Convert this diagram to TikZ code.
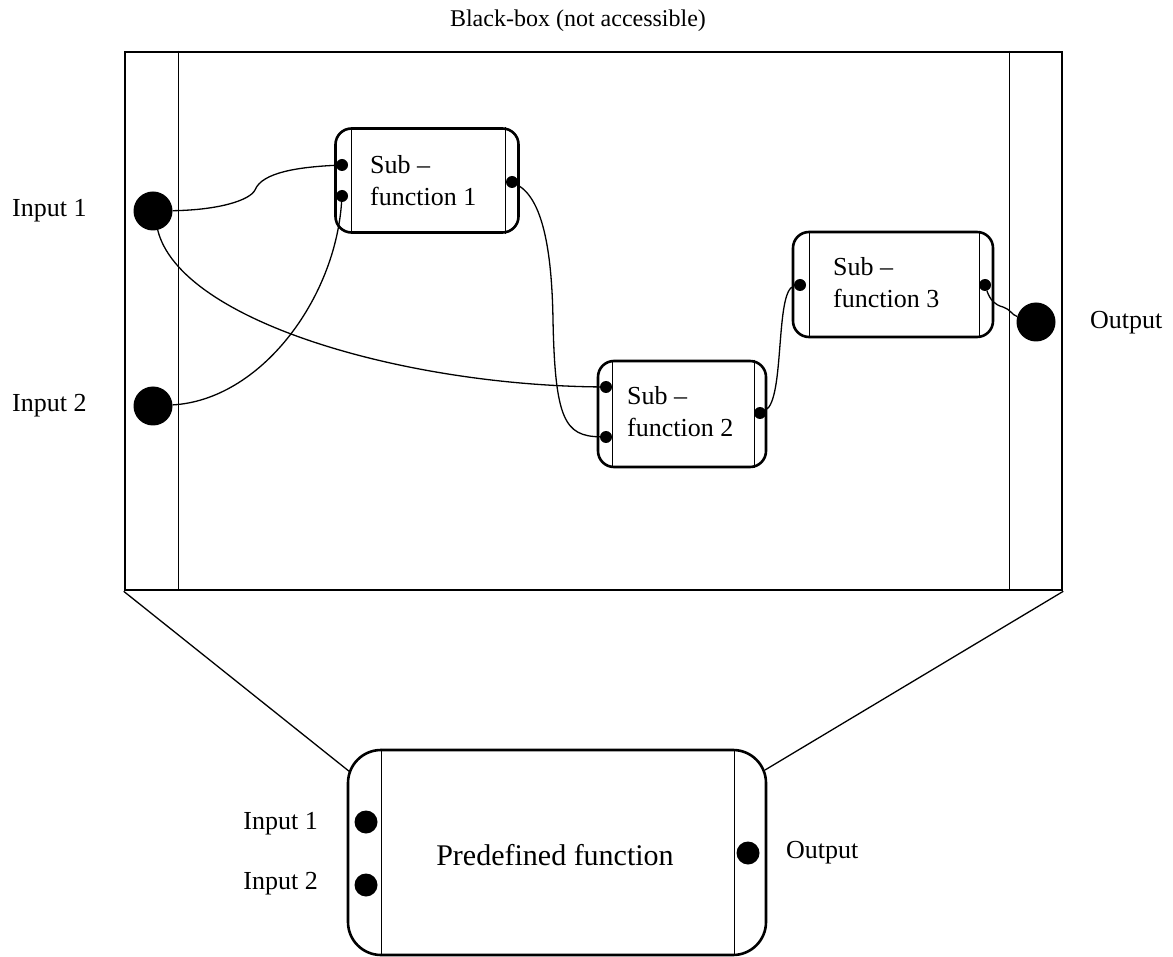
\documentclass[tikz,border=0pt]{standalone}
\usepackage{fontspec}
\setmainfont{Liberation Serif}
\begin{document}
\begin{tikzpicture}[x=1pt,y=-1pt]
\tikzset{
  fbox/.style={draw, line width=2.6pt, rounded corners=16pt, inner sep=0pt},
  thinline/.style={line width=1.3pt},
  wire/.style={line width=1.3pt},
  sdot/.style={circle, fill=black, minimum size=12pt, inner sep=0pt},
  bdot/.style={circle, fill=black, minimum size=39pt, inner sep=0pt},
  mdot/.style={circle, fill=black, minimum size=23pt, inner sep=0pt},
  txt/.style={font=\fontsize{26}{32}\selectfont, inner sep=0pt, align=left},
}
\useasboundingbox (0,0) rectangle (1173,957);

% title
\node[txt, font=\fontsize{24}{28}\selectfont] (title) at (578,21) {Black-box (not accessible)};

% black box
\node[draw, line width=2.6pt, minimum width=937pt, minimum height=538pt, inner sep=0pt] (bb) at (593.5,321) {};
\draw[thinline] ([xshift=55pt]bb.north west) -- ([xshift=55pt]bb.south west);
\draw[thinline] ([xshift=-54pt]bb.north east) -- ([xshift=-54pt]bb.south east);

% big inputs/outputs
\node[bdot] (in1) at (153,211) {};
\node[bdot] (in2) at (153,406) {};
\node[bdot] (out) at (1036,322) {};
\node[txt, anchor=west] (lin1) at (12,211) {Input 1};
\node[txt, anchor=west] (lin2) at (12,406) {Input 2};
\node[txt, anchor=west] (lout) at (1090,323) {Output};

% sub-function 1
\node[fbox, minimum width=183pt, minimum height=104pt] (s1) at (427,180.5) {};
\draw[thinline] ([xshift=17pt]s1.north west) -- ([xshift=17pt]s1.south west);
\draw[thinline] ([xshift=-14pt]s1.north east) -- ([xshift=-14pt]s1.south east);
\node[sdot] (s1a) at (342,165) {};
\node[sdot] (s1b) at (342,196) {};
\node[sdot] (s1o) at (512,182) {};
\node[txt, anchor=west] (t1) at (370,181) {Sub –\\function 1};

% sub-function 2
\node[fbox, minimum width=168pt, minimum height=106pt] (s2) at (682,414) {};
\draw[thinline] ([xshift=16pt]s2.north west) -- ([xshift=16pt]s2.south west);
\draw[thinline] ([xshift=-13pt]s2.north east) -- ([xshift=-13pt]s2.south east);
\node[sdot] (s2a) at (606,387) {};
\node[sdot] (s2b) at (606,437) {};
\node[sdot] (s2o) at (760,413) {};
\node[txt, anchor=west] (t2) at (627,412) {Sub –\\function 2};

% sub-function 3
\node[fbox, minimum width=200pt, minimum height=105pt] (s3) at (893,284.5) {};
\draw[thinline] ([xshift=18pt]s3.north west) -- ([xshift=18pt]s3.south west);
\draw[thinline] ([xshift=-15pt]s3.north east) -- ([xshift=-15pt]s3.south east);
\node[sdot] (s3a) at (800,285) {};
\node[sdot] (s3o) at (985,285) {};
\node[txt, anchor=west] (t3) at (833,283) {Sub –\\function 3};

% connectors
\draw[wire] (in1) .. controls (220,210) and (250,200) .. (255,190)
  .. controls (262,172) and (300,167) .. (s1a);
\draw[wire] (in1) .. controls (180,320) and (400,385) .. (s2a);
\draw[wire] (in2) .. controls (260,400) and (335,300) .. (s1b);
\draw[wire] (s1o) .. controls (545,200) and (552,260) .. (553,320)
  .. controls (555,420) and (565,436) .. (s2b);
\draw[wire] (s2o) .. controls (785,400) and (775,290) .. (s3a);
\draw[wire] (s3o) .. controls (990,300) and (995,305) .. (1003,307)
  .. controls (1010,309) and (1012,315) .. (out);

% predefined function
\node[fbox, rounded corners=33pt, minimum width=418pt, minimum height=205pt] (pf) at (557,852.5) {};
\draw[thinline] ([xshift=35pt]pf.north west) -- ([xshift=35pt]pf.south west);
\draw[thinline] ([xshift=-33pt]pf.north east) -- ([xshift=-33pt]pf.south east);
\node[mdot] (pi1) at (366,822) {};
\node[mdot] (pi2) at (366,885) {};
\node[mdot] (po) at (748,853) {};
\node[txt, font=\fontsize{30}{34}\selectfont] (tpf) at (555,855) {Predefined function};
\node[txt, anchor=east] (lpi1) at (318,824) {Input 1};
\node[txt, anchor=east] (lpi2) at (318,884) {Input 2};
\node[txt, anchor=west] (lpo) at (786,853) {Output};

% zoom lines
\coordinate (pfl) at (350,772);
\coordinate (pfr) at (765,770);
\draw[thinline] (bb.south west) -- (pfl);
\draw[thinline] (bb.south east) -- (pfr);
\end{tikzpicture}
\end{document}
